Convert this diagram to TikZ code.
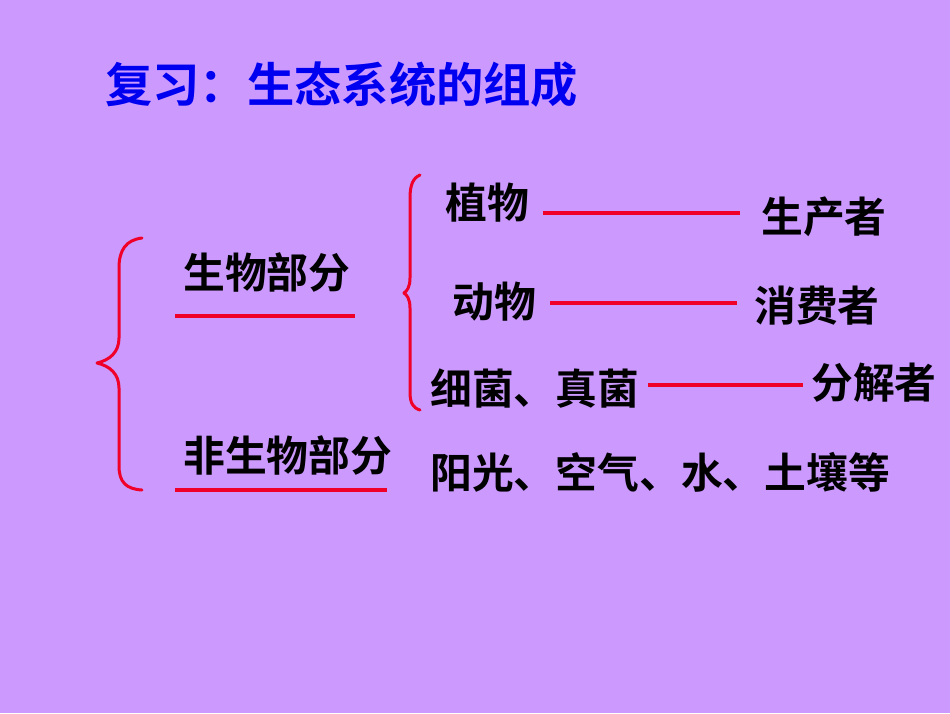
\documentclass[tikz,border=0pt]{standalone}
\usepackage{fontspec}
\setmainfont{Noto Sans CJK SC}[BoldFont={Noto Sans CJK SC Bold}]
\definecolor{bgpurple}{RGB}{204,153,255}
\definecolor{titleblue}{RGB}{0,0,240}
\definecolor{linered}{RGB}{240,0,40}
\tikzset{
  lbl/.style={inner sep=0pt, font=\fontsize{41.8}{46}\selectfont\bfseries, text=black},
  ttl/.style={inner sep=0pt, font=\fontsize{47.3}{52}\selectfont\bfseries, text=titleblue},
  redline/.style={draw=linered, line width=3.2pt},
  bracepath/.style={draw=linered, line width=3pt, line cap=round, line join=round}
}
\begin{document}
\begin{tikzpicture}[x=1pt,y=-1pt]
\fill[bgpurple] (0,0) rectangle (950,713);
\useasboundingbox (0,0) rectangle (950,713);
% title
\node[ttl, anchor=west] (title) at (105,85) {复习：生态系统的组成};
% labels
\node[lbl, anchor=west] (bio) at (183,272) {生物部分};
\node[lbl, anchor=west] (nonbio) at (183,455) {非生物部分};
\node[lbl, anchor=west] (plant) at (445,203) {植物};
\node[lbl, anchor=west] (animal) at (452,302) {动物};
\node[lbl, anchor=west] (fungi) at (430,389) {细菌、真菌};
\node[lbl, anchor=west] (abiotic) at (430,472) {阳光、空气、水、土壤等};
\node[lbl, anchor=west] (producer) at (761,217) {生产者};
\node[lbl, anchor=west] (consumer) at (754,306) {消费者};
\node[lbl, anchor=west] (decomposer) at (811,383) {分解者};
% underline blanks
\coordinate (u1a) at (175,316); \coordinate (u1b) at (355,316);
\coordinate (u2a) at (175,490); \coordinate (u2b) at (387,490);
\draw[redline] (u1a) -- (u1b);
\draw[redline] (u2a) -- (u2b);
% connector lines
\coordinate (c1a) at (543,213); \coordinate (c1b) at (740,213);
\coordinate (c2a) at (550,303); \coordinate (c2b) at (737,303);
\coordinate (c3a) at (648,385); \coordinate (c3b) at (803,385);
\draw[redline] (c1a) -- (c1b);
\draw[redline] (c2a) -- (c2b);
\draw[redline] (c3a) -- (c3b);
% left brace
\draw[bracepath] (142,238) .. controls (126,240) and (119,250) .. (119,268)
  -- (119,338) .. controls (119,352) and (110,360) .. (97,363)
  .. controls (110,366) and (119,374) .. (119,388)
  -- (119,466) .. controls (119,482) and (126,489) .. (142,490);
% right brace
\draw[bracepath] (420,175) .. controls (413,178) and (410,185) .. (410,198)
  -- (410,278) .. controls (410,287) and (407,291) .. (404,293)
  .. controls (407,295) and (410,299) .. (410,308)
  -- (410,392) .. controls (410,403) and (413,408) .. (420,410);
\end{tikzpicture}
\end{document}
